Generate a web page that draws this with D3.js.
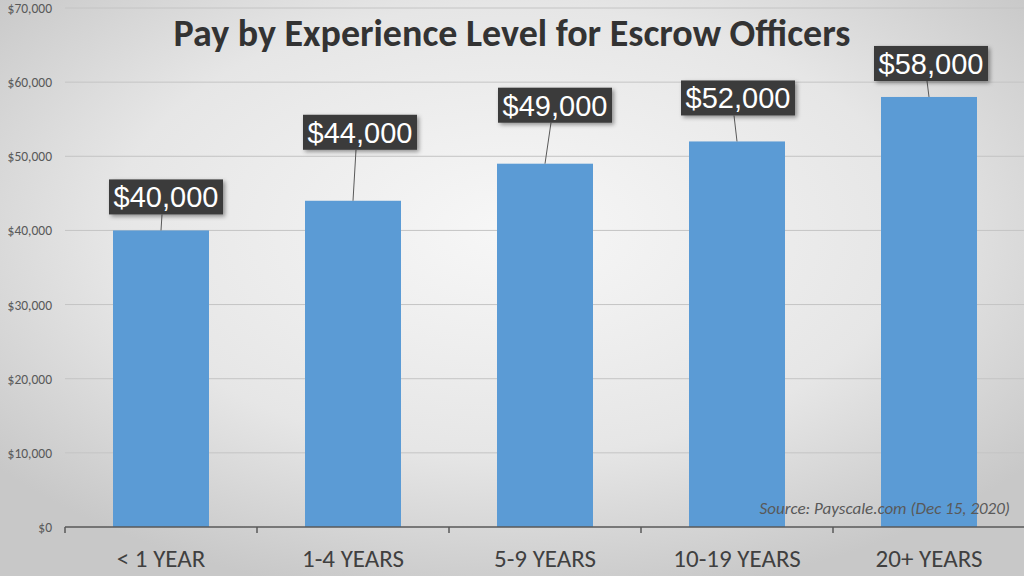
<!DOCTYPE html><html><head><script src="https://cdn.jsdelivr.net/npm/d3@7"></script>
<style>body{margin:0}svg{display:block}</style></head><body><svg id="c" width="1024" height="576"></svg>
<script>
const categories=["< 1 YEAR","1-4 YEARS","5-9 YEARS","10-19 YEARS","20+ YEARS"];
const pay=[40000,44000,49000,52000,58000];
const payLabels=["$40,000","$44,000","$49,000","$52,000","$58,000"];
const yTicks=[0,10000,20000,30000,40000,50000,60000,70000];
const svg=d3.select("#c");
const defs=svg.append("defs");
const g=defs.append("radialGradient").attr("id","bg").attr("cx","50%").attr("cy","40%").attr("r","65%");
g.append("stop").attr("offset","0%").attr("stop-color","#f7f7f7");
g.append("stop").attr("offset","60%").attr("stop-color","#e6e6e6");
g.append("stop").attr("offset","100%").attr("stop-color","#c8c8c8");
const f=defs.append("filter").attr("id","sh").attr("x","-20%").attr("y","-20%").attr("width","150%").attr("height","160%");
f.append("feDropShadow").attr("dx",2).attr("dy",2).attr("stdDeviation",2).attr("flood-opacity",0.4);
svg.append("rect").attr("width",1024).attr("height",576).attr("fill","url(#bg)");
const FONT="Calibri, Carlito, Lato, sans-serif";
const x=d3.scaleBand().domain(categories).range([65,1025]).paddingInner(0.5).paddingOuter(0.25);
const y=d3.scaleLinear().domain([0,70000]).range([527,8]);
svg.append("g").selectAll("line").data(yTicks.slice(1)).join("line")
 .attr("x1",65).attr("x2",1024).attr("y1",d=>y(d)).attr("y2",d=>y(d)).attr("stroke","#c4c4c4").attr("stroke-width",1);
svg.append("g").selectAll("text").data(yTicks).join("text").attr("x",52).attr("y",d=>y(d)+5)
 .attr("text-anchor","end").attr("font-family",FONT).attr("font-size",13.5).attr("fill","#595959")
 .text(d=>"$"+d3.format(",")(d));
svg.append("g").selectAll("rect").data(pay).join("rect")
 .attr("x",(d,i)=>x(categories[i])).attr("width",x.bandwidth()).attr("y",d=>y(d)).attr("height",d=>y(0)-y(d)).attr("fill","#5b9bd5");
const ax=svg.append("g").attr("transform","translate(0,527)");
ax.append("line").attr("x1",65).attr("x2",1024).attr("stroke","#595959").attr("stroke-width",1.5);
const step=x.step();
ax.selectAll("line.t").data(d3.range(6)).join("line").attr("class","t")
 .attr("x1",i=>65+i*step).attr("x2",i=>65+i*step).attr("y1",0).attr("y2",6).attr("stroke","#595959").attr("stroke-width",1.5);
ax.selectAll("text").data(categories).join("text").attr("x",d=>x(d)+x.bandwidth()/2).attr("y",40)
 .attr("text-anchor","middle").attr("font-family",FONT).attr("font-size",25).attr("fill","#404040").text(d=>d);
const boxGap=[16,51,41,26,16], boxDx=[5,7,10,1,2];
const lab=svg.append("g");
pay.forEach((v,i)=>{
 const cx=x(categories[i])+x.bandwidth()/2, top=y(v), bb=top-boxGap[i], bx=cx+boxDx[i];
 lab.append("line").attr("x1",cx).attr("y1",top).attr("x2",bx-4).attr("y2",bb).attr("stroke","#595959");
 lab.append("rect").attr("x",bx-57).attr("y",bb-35).attr("width",114).attr("height",35).attr("fill","#3a3a3a").attr("filter","url(#sh)");
 lab.append("text").attr("x",bx).attr("y",bb-7).attr("text-anchor","middle").attr("font-family","Liberation Sans, Arial, sans-serif")
  .attr("font-size",29).attr("fill","#fff").text(payLabels[i]);
});
svg.append("text").attr("x",512).attr("y",46).attr("text-anchor","middle").attr("font-family",FONT)
 .attr("font-weight","bold").attr("font-size",38).attr("fill","#333").text("Pay by Experience Level for Escrow Officers");
svg.append("text").attr("x",1010).attr("y",514).attr("text-anchor","end").attr("font-family",FONT)
 .attr("font-style","italic").attr("font-size",17).attr("fill","#595959").text("Source: Payscale.com (Dec 15, 2020)");
</script></body></html>
